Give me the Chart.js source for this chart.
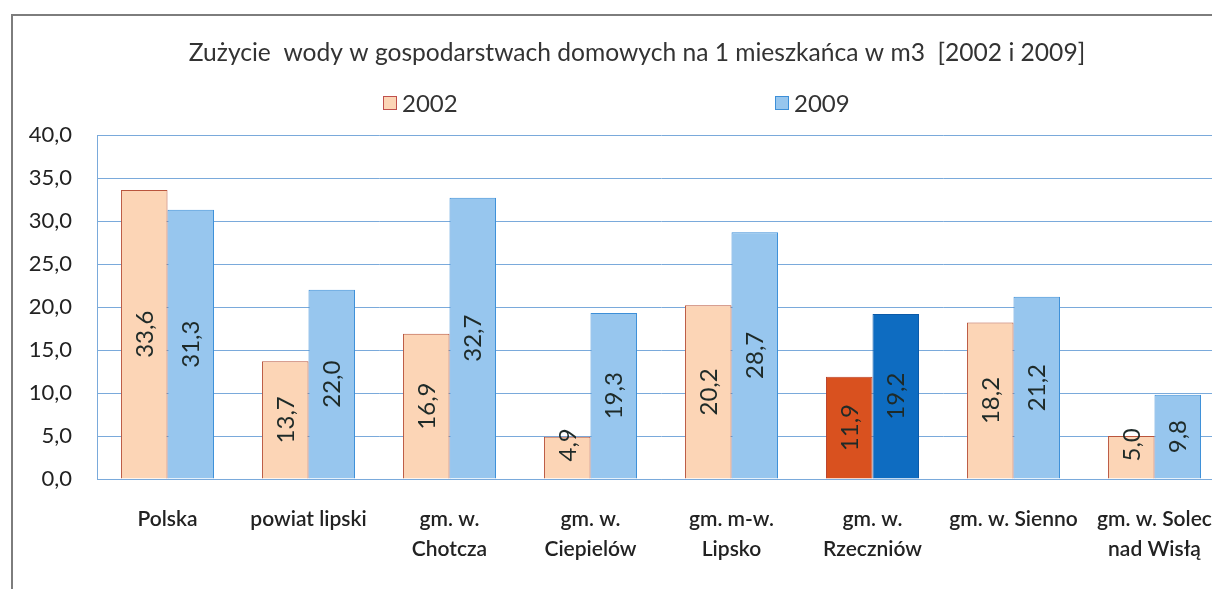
<!DOCTYPE html>
<html lang="pl">
<head>
  <meta charset="UTF-8" />
  <title>Zużycie wody</title>
  <style>
body {
    margin: 0;
    background: #ffffff;
    overflow: hidden;
    width: 1212px;
    height: 589px;
    position: relative;
}

.frame {
    position: absolute;
    left: 11px;
    top: 14px;
    border-left: 2px solid #7d7d7d;
    border-top: 2px solid #7d7d7d;
    width: 1248px;
    height: 573px;
}

canvas {
    display: block;
}
  </style>
</head>
<body>

  <div class="frame">
    <canvas id="waterChart" width="1248" height="573"></canvas>
  </div>

  <script src="https://cdn.jsdelivr.net/npm/chart.js"></script>

  <script>
    const chartTitle = 'Zużycie  wody w gospodarstwach domowych na 1 mieszkańca w m3  [2002 i 2009]';
    const categories = [
      'Polska',
      'powiat lipski',
      ['gm. w.', 'Chotcza'],
      ['gm. w.', 'Ciepielów'],
      ['gm. m-w.', 'Lipsko'],
      ['gm. w.', 'Rzeczniów'],
      'gm. w. Sienno',
      ['gm. w. Solec', 'nad Wisłą']
    ];
    const values2002 = [33.6, 13.7, 16.9, 4.9, 20.2, 11.9, 18.2, 5.0];
    const values2009 = [31.3, 22.0, 32.7, 19.3, 28.7, 19.2, 21.2, 9.8];
    const seriesLabels = ['2002', '2009'];
    const highlighted = 5; // gm. w. Rzeczniów

    const FONT = 'Lato, "Open Sans", sans-serif';

    function fmt(v) {
      return v.toFixed(1).replace('.', ',');
    }

    function colorsFor(values, normal, strong) {
      return values.map((v, i) => (i === highlighted ? strong : normal));
    }

    // values written vertically in the middle of each bar
    const barValues = {
      id: 'barValues',
      afterDatasetsDraw(chart) {
        const ctx = chart.ctx;
        ctx.save();
        ctx.font = '24px ' + FONT;
        ctx.fillStyle = '#1e2a28';
        ctx.textAlign = 'center';
        ctx.textBaseline = 'middle';
        chart.data.datasets.forEach((ds, di) => {
          chart.getDatasetMeta(di).data.forEach((bar, i) => {
            const text = fmt(ds.data[i]);
            const half = ctx.measureText(text).width / 2;
            // short bars: keep the label clear of the axis, like Excel does
            const mid = Math.min((bar.y + bar.base) / 2, bar.base - half - 17);
            ctx.save();
            ctx.translate(bar.x, mid);
            ctx.rotate(-Math.PI / 2);
            ctx.fillText(text, 0, 1);
            ctx.restore();
          });
        });
        ctx.restore();
      }
    };

    // title + legend spread wide like in the original
    const header = {
      id: 'header',
      afterDraw(chart) {
        const ctx = chart.ctx;
        ctx.save();
        ctx.textBaseline = 'middle';
        ctx.font = '24.6px ' + FONT;
        ctx.fillStyle = '#333';
        ctx.textAlign = 'center';
        ctx.fillText(chartTitle, 624, 37);

        const xs = [370, 762];
        const y = 87;
        ctx.textAlign = 'left';
        ctx.font = '24px ' + FONT;
        chart.data.datasets.forEach((ds, i) => {
          ctx.fillStyle = ds.legendFill;
          ctx.fillRect(xs[i], y - 7, 14, 14);
          ctx.strokeStyle = ds.legendBorder;
          ctx.lineWidth = 1;
          ctx.strokeRect(xs[i] + 0.5, y - 6.5, 13, 13);
          ctx.fillStyle = '#333';
          ctx.fillText(ds.label, xs[i] + 19, y + 1);
        });
        ctx.restore();
      }
    };

    new Chart(document.getElementById('waterChart').getContext('2d'), {
      type: 'bar',
      data: {
        labels: categories,
        datasets: [{
          label: seriesLabels[0],
          data: values2002,
          backgroundColor: colorsFor(values2002, '#fcd5b6', '#d9511f'),
          borderColor: colorsFor(values2002, '#b9553d', '#b9402a'),
          borderWidth: 1,
          legendFill: '#fcd5b6',
          legendBorder: '#c0504d'
        }, {
          label: seriesLabels[1],
          data: values2009,
          backgroundColor: colorsFor(values2009, '#97c6ee', '#0e6cc1'),
          borderColor: colorsFor(values2009, '#3d8fd8', '#0b5aa8'),
          borderWidth: 1,
          legendFill: '#97c6ee',
          legendBorder: '#3d8fd8'
        }]
      },
      options: {
        responsive: false,
        animation: false,
        layout: { padding: { left: 0, right: 36, top: 119, bottom: 0 } },
        datasets: {
          bar: { categoryPercentage: 0.66, barPercentage: 1.0 }
        },
        plugins: {
          legend: { display: false },
          tooltip: { enabled: false },
          title: { display: false }
        },
        scales: {
          x: {
            grid: { display: false },
            border: { display: true, color: '#7aaadb', width: 1 },
            ticks: {
              color: '#222',
              font: { family: FONT, size: 21, weight: '600', lineHeight: 1.4 },
              padding: 18,
              maxRotation: 0,
              autoSkip: false
            },
            afterFit(scale) { scale.height = 110; }
          },
          y: {
            min: 0,
            max: 40,
            grid: { color: '#7aaadb', drawTicks: false },
            border: { display: true, color: '#7aaadb', width: 1 },
            ticks: {
              stepSize: 5,
              color: '#222',
              font: { family: FONT, size: 22 },
              padding: 25,
              callback: (v) => fmt(v)
            },
            afterFit(scale) { scale.width = 84; }
          }
        }
      },
      plugins: [barValues, header]
    });
  </script>
</body>
</html>
